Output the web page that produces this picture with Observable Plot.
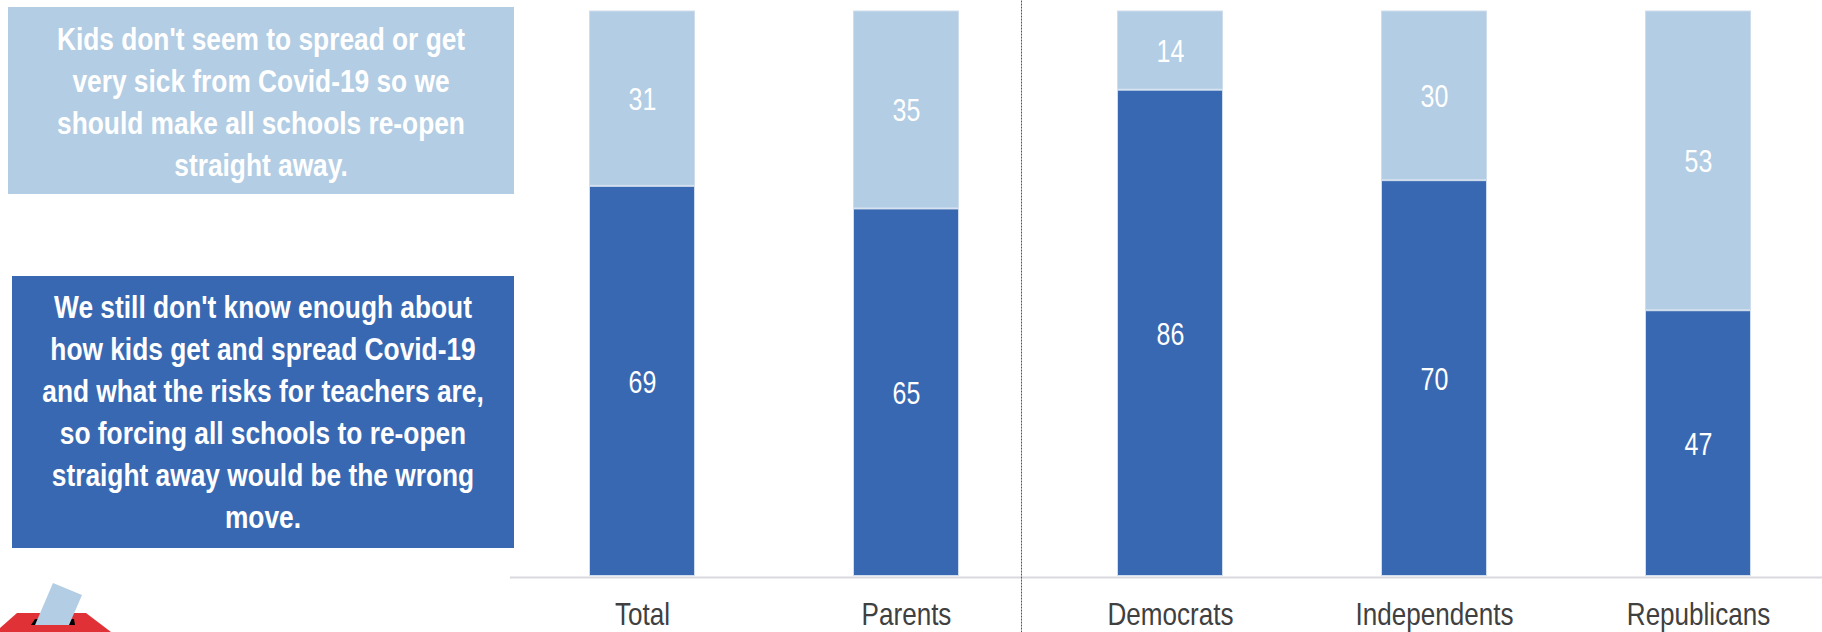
<!DOCTYPE html>
<html>
<head>
<meta charset="utf-8">
<script src="https://cdn.jsdelivr.net/npm/d3@7"></script>
<script src="https://cdn.jsdelivr.net/npm/@observablehq/plot@0.6"></script>
<style>
html,body{margin:0;padding:0;background:#fff;overflow:hidden}
#wrap{position:relative;width:1822px;height:632px}
#chart{position:absolute;left:0;top:0}
.box{position:absolute;color:#fff;font:bold 32px/42px "Liberation Sans",Arial,sans-serif;text-align:center;white-space:nowrap;box-sizing:border-box}
.box div{margin:0 -100px;transform:scaleX(.822);transform-origin:center}
#light{left:8px;top:7px;width:506px;height:187px;background:#b3cde4;padding-top:11px}
#dark{left:12px;top:276px;width:502px;height:272px;background:#3968b2;padding-top:10px}
#icon{position:absolute;left:0;top:570px}
</style>
</head>
<body>
<div id="wrap">
<div id="chart"></div>
<div class="box" id="light"></div>
<div class="box" id="dark"></div>
<svg id="icon" width="130" height="62" viewBox="0 570 130 62">
<polygon points="0,628 17,613 86,613 111,632 0,632" fill="#e03236"/>
<polygon points="31,625 35,619 74,619 75,625" fill="#000"/>
<polygon points="53,583 82,595 69,625 35,625" fill="#b3cde4"/>
</svg>
</div>
<script>
const categories = ["Total", "Parents", "Democrats", "Independents", "Republicans"];
const stillDontKnow = [69, 65, 86, 70, 47];
const reopenNow = [31, 35, 14, 30, 53];
const lightLines = ["Kids don't seem to spread or get", "very sick from Covid-19 so we", "should make all schools re-open", "straight away."];
const darkLines = ["We still don't know enough about", "how kids get and spread Covid-19", "and what the risks for teachers are,", "so forcing all schools to re-open", "straight away would be the wrong", "move."];
const dividerAfter = "Parents";

document.getElementById("light").innerHTML = lightLines.map(l => `<div>${l}</div>`).join("");
document.getElementById("dark").innerHTML = darkLines.map(l => `<div>${l}</div>`).join("");

const rows = categories.flatMap((c, i) => [
  {category: c, series: "dark", from: 0, to: stillDontKnow[i], label: stillDontKnow[i]},
  {category: c, series: "light", from: stillDontKnow[i], to: stillDontKnow[i] + reopenNow[i], label: reopenNow[i]}
]);

const sans = "Liberation Sans, Arial, sans-serif";
const chart = Plot.plot({
  width: 1822,
  height: 632,
  marginLeft: 510,
  marginRight: 0,
  marginTop: 10.5,
  marginBottom: 56,
  style: {background: "transparent", fontFamily: sans},
  x: {domain: categories, range: [510, 1830], paddingInner: 0.6, paddingOuter: 0.3, axis: null},
  y: {domain: [0, 100], axis: null},
  color: {domain: ["dark", "light"], range: ["#3968b2", "#b3cde4"]},
  marks: [
    Plot.barY(rows, {x: "category", y1: "from", y2: "to", fill: "series", stroke: "#cfdded", strokeWidth: 1, inset: 0.5}),
    Plot.ruleY([0], {stroke: "#d9d9e0", strokeWidth: 2, dy: 1}),
    Plot.ruleX([dividerAfter], {x: d => d, y1: -10, y2: 102, dx: 115, stroke: "#555", strokeWidth: 1, strokeDasharray: "2,1"}),
    Plot.text(rows, {x: "category", y: d => (d.from + d.to) / 2, text: "label", fill: "#fff", fontSize: 32, dy: 1}),
    Plot.text(categories, {x: d => d, y: 0, text: d => d, dy: 38, fill: "#404040", fontSize: 32})
  ]
});
document.getElementById("chart").appendChild(chart);
// The reference type is condensed; squeeze the glyphs of the real text marks.
d3.select(chart).selectAll("text").each(function () {
  const numeric = /^\d+$/.test(this.textContent);
  const len = this.getComputedTextLength();
  this.setAttribute("textLength", len * (numeric ? 0.78 : 0.814));
  this.setAttribute("lengthAdjust", "spacingAndGlyphs");
});
</script>
</body>
</html>
